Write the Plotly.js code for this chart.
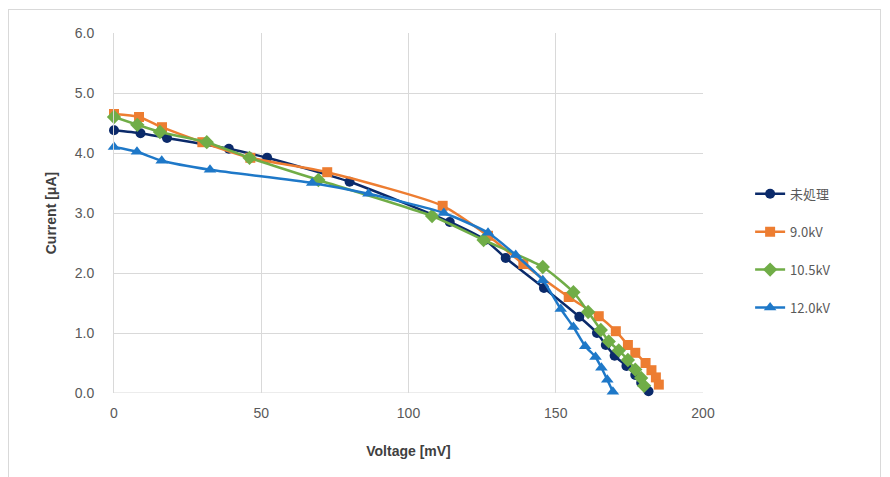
<!DOCTYPE html>
<html>
<head>
<meta charset="utf-8">
<script src="https://cdn.plot.ly/plotly-3.0.1.min.js"></script>
<style>
  html, body { margin: 0; padding: 0; background: #fff; }
  #wrap { position: relative; width: 890px; height: 477px; overflow: hidden; }
  #frame { position: absolute; left: 8px; top: 9px; width: 873px; height: 490px;
           border: 1px solid #d9d9d9; box-sizing: border-box; }
  #chart { position: absolute; left: 0; top: 0; width: 890px; height: 477px; }
</style>
</head>
<body>
<div id="wrap">
  <div id="frame"></div>
  <div id="chart"></div>
</div>
<script>
// I-V curves: voltage [mV] vs current [uA] for each treatment condition
const seriesNames = ["未処理", "9.0kV", "10.5kV", "12.0kV"];

const untreatedV = [0, 9, 18, 39, 52, 80, 114, 126, 133, 146, 158, 164, 167, 170, 174, 177, 179, 181.5];
const untreatedI = [4.38, 4.33, 4.25, 4.07, 3.92, 3.52, 2.85, 2.55, 2.25, 1.75, 1.27, 1.0, 0.8, 0.62, 0.45, 0.3, 0.17, 0.03];

const kv90V = [0, 8.5, 16.3, 30, 46.3, 72.4, 111.6, 127, 139, 154.4, 164.6, 170.4, 174.5, 177, 180.5, 182.5, 184, 185];
const kv90I = [4.65, 4.6, 4.43, 4.18, 3.92, 3.68, 3.12, 2.62, 2.15, 1.6, 1.28, 1.03, 0.8, 0.67, 0.5, 0.38, 0.26, 0.14];

const kv105V = [0, 7.9, 15.6, 31.5, 46, 69.4, 108, 125.5, 145.6, 156, 161, 165.3, 168, 171.4, 174.5, 177, 179, 180];
const kv105I = [4.6, 4.47, 4.35, 4.18, 3.92, 3.55, 2.95, 2.55, 2.1, 1.68, 1.35, 1.05, 0.86, 0.71, 0.55, 0.39, 0.25, 0.12];

const kv120V = [0, 7.8, 16.2, 32.6, 67.3, 86.4, 112, 127, 136.4, 145.6, 151.7, 156, 160, 163.5, 165.5, 167.5, 169.4];
const kv120I = [4.1, 4.02, 3.87, 3.72, 3.5, 3.32, 3.0, 2.67, 2.3, 1.88, 1.4, 1.1, 0.78, 0.6, 0.42, 0.22, 0.02];

const seriesColors = ["#0b2a6a", "#ed7d31", "#70ad47", "#1e78c8"];
const seriesSymbols = ["circle", "square", "diamond", "triangle-up"];
const seriesSizes = [10, 10, 11, 11];

const xs = [untreatedV, kv90V, kv105V, kv120V];
const ys = [untreatedI, kv90I, kv105I, kv120I];

const traces = seriesNames.map((name, i) => ({
  type: "scatter",
  mode: "lines+markers",
  name: name,
  legendgroup: "g" + i,
  x: xs[i],
  y: ys[i],
  cliponaxis: false,
  line: { color: seriesColors[i], width: 2.5, shape: "spline", smoothing: 0.6 },
  marker: { color: seriesColors[i], symbol: seriesSymbols[i], size: seriesSizes[i] }
}));

const tickFont = { family: "Liberation Sans, Arial, sans-serif", size: 14, color: "#595959" };
const titleFont = { family: "Liberation Sans, Arial, sans-serif", size: 14, color: "#404040", weight: "bold" };

const layout = {
  width: 890,
  height: 477,
  margin: { l: 114, r: 187, t: 33, b: 84 },
  paper_bgcolor: "rgba(0,0,0,0)",
  plot_bgcolor: "rgba(0,0,0,0)",
  showlegend: true,
  legend: {
    x: 1.08, y: 0.395, xanchor: "left", yanchor: "middle",
    traceorder: "grouped",
    tracegroupgap: 18,
    font: { family: "Noto Sans CJK JP, Liberation Sans, sans-serif", size: 13, color: "#595959" },
    bgcolor: "rgba(0,0,0,0)"
  },
  xaxis: {
    range: [0, 200], dtick: 50, tick0: 0,
    showgrid: true, gridcolor: "#d9d9d9", gridwidth: 1,
    zeroline: false, showline: false,
    ticks: "", ticklabelstandoff: 10,
    tickfont: tickFont,
    title: { text: "Voltage [mV]", font: titleFont, standoff: 26 }
  },
  yaxis: {
    range: [0, 6], dtick: 1, tick0: 0, tickformat: ".1f",
    showgrid: true, gridcolor: "#d9d9d9", gridwidth: 1,
    zeroline: false, showline: true, linecolor: "#d9d9d9", linewidth: 1,
    ticks: "", ticklabelstandoff: 16,
    tickfont: tickFont,
    title: { text: "Current [μA]", font: titleFont, standoff: 14 }
  },
  shapes: [{
    type: "line", xref: "paper", yref: "y", x0: 0, x1: 1, y0: 0, y1: 0,
    line: { color: "#d9d9d9", width: 1 }, layer: "below"
  }]
};

Plotly.newPlot("chart", traces, layout, { staticPlot: true, displayModeBar: false });
</script>
</body>
</html>
